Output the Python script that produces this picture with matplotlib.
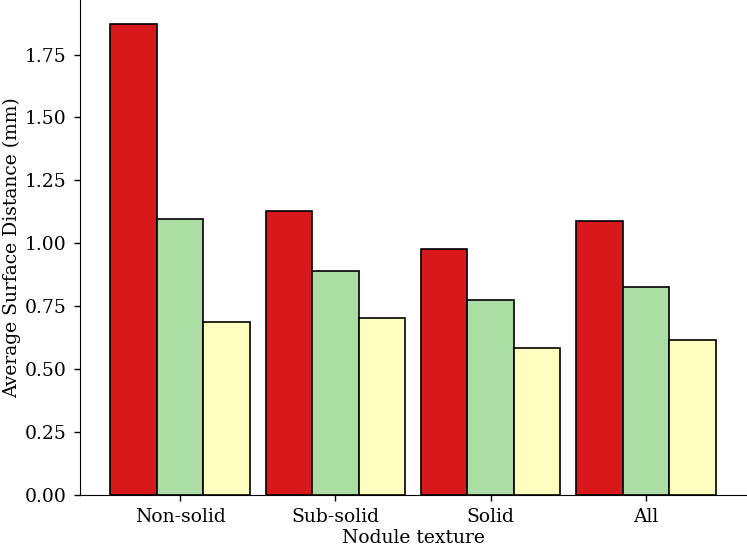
import numpy as np
import matplotlib
matplotlib.use('Agg')
import matplotlib.pyplot as plt

plt.rcParams['font.family'] = 'DejaVu Serif'

# Average surface distance per nodule texture, three methods
categories = ['Non-solid', 'Sub-solid', 'Solid', 'All']
method_a = [1.873, 1.128, 0.977, 1.087]
method_b = [1.096, 0.888, 0.774, 0.826]
method_c = [0.689, 0.705, 0.586, 0.616]

colors = ['#d7191c', '#abdda4', '#ffffbf']
width = 0.3
fs = 13.5

fig = plt.figure(figsize=(7.47, 5.48), dpi=100)
ax = fig.add_axes([80 / 747, 53 / 548, 666 / 747, 495 / 548])

x = np.arange(len(categories))
for i, vals in enumerate([method_a, method_b, method_c]):
    ax.bar(x + (i - 1) * width, vals, width, color=colors[i],
           edgecolor='black', linewidth=1.2)

ax.set_xticks(x)
ax.set_xticklabels(categories, fontsize=fs)
ax.tick_params(axis='both', labelsize=fs, length=4.5, width=1, pad=5)
ax.set_yticks(np.arange(0, 2.0, 0.25))
ax.set_xlabel('Nodule texture', fontsize=fs, labelpad=2)
ax.set_ylabel('Average Surface Distance (mm)', fontsize=fs, labelpad=3)
ax.spines['top'].set_visible(False)
ax.spines['right'].set_visible(False)

fig.savefig('out.png', dpi=100)
